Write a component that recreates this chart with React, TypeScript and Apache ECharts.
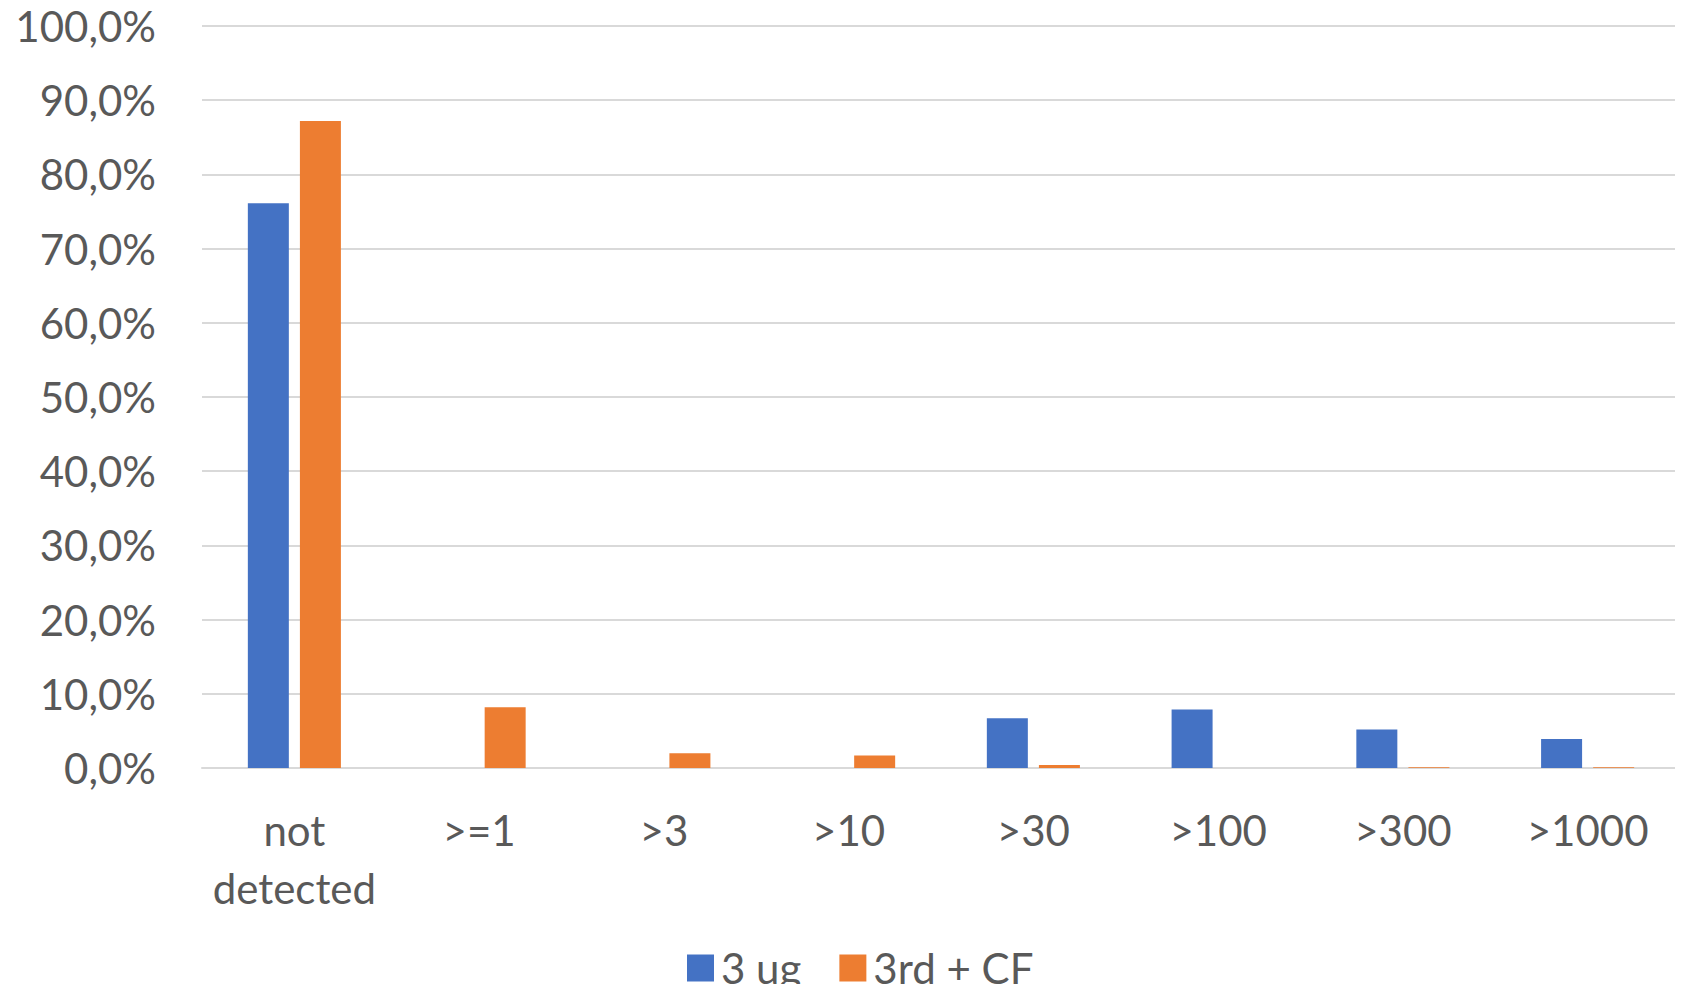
import React, { useEffect, useRef } from "react";
import * as echarts from "echarts";

const categories = ["not\ndetected", ">=1", ">3", ">10", ">30", ">100", ">300", ">1000"];
const series3ug = [76.1, 0, 0, 0, 6.7, 7.9, 5.2, 3.9];
const series3rdCF = [87.2, 8.2, 2.0, 1.7, 0.4, 0, 0.1, 0.1];
const seriesNames = ["3 ug", "3rd + CF"];
const colors = ["#4472C4", "#ED7D31"];

export default function App() {
  const ref = useRef<HTMLDivElement>(null);
  useEffect(() => {
    const chart = echarts.init(ref.current!, undefined, { renderer: "svg" });
    const font = "Lato";
    chart.setOption({
      animation: false,
      color: colors,
      grid: { left: 202, right: 3, top: 26, bottom: 224, containLabel: false },
      legend: {
        left: 682,
        top: 942,
        itemWidth: 27,
        itemHeight: 27,
        itemGap: 38,
        icon: "rect",
        textStyle: { fontFamily: font, fontSize: 42, color: "#595959", padding: [0, 0, 0, 2] },
        data: seriesNames,
      },
      xAxis: {
        type: "category",
        data: categories,
        axisLine: { lineStyle: { color: "#d9d9d9", width: 2 } },
        axisTick: { show: false },
        axisLabel: {
          interval: 0,
          fontFamily: font,
          fontSize: 42,
          color: "#595959",
          lineHeight: 58,
          margin: 33,
        },
      },
      yAxis: {
        type: "value",
        min: 0,
        max: 100,
        interval: 10,
        axisLine: { show: false },
        axisTick: { show: false },
        splitLine: { lineStyle: { color: "#d9d9d9", width: 2 } },
        axisLabel: {
          fontFamily: font,
          fontSize: 42,
          color: "#595959",
          margin: 46,
          formatter: (v: number) => v.toFixed(1).replace(".", ",") + "%",
        },
      },
      series: [
        { name: seriesNames[0], type: "bar", data: series3ug, barWidth: 41, barGap: "27%" },
        { name: seriesNames[1], type: "bar", data: series3rdCF, barWidth: 41, barGap: "27%" },
      ],
    });
    return () => chart.dispose();
  }, []);
  return <div ref={ref} style={{ width: 1683, height: 992, margin: -8 }} />;
}
